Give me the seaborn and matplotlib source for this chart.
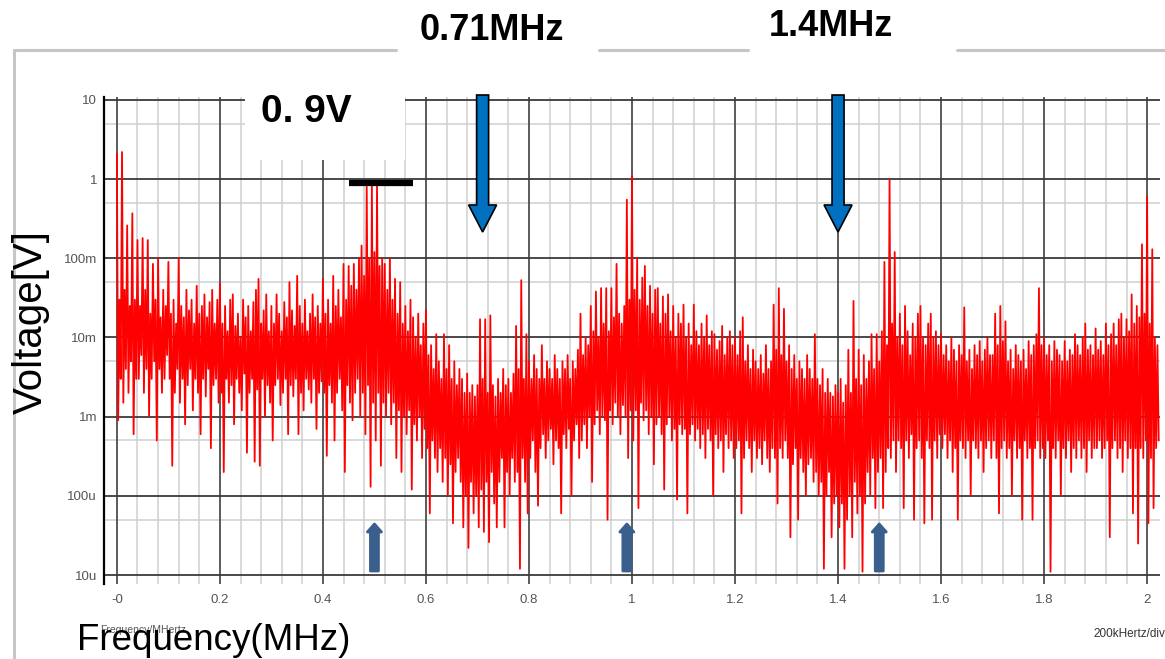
import numpy as np
import pandas as pd
import matplotlib
matplotlib.use("Agg")
import matplotlib.pyplot as plt
import seaborn as sns
from matplotlib.patches import Polygon, Rectangle
from matplotlib.lines import Line2D
from matplotlib.transforms import Affine2D
from matplotlib.ticker import FixedLocator, FixedFormatter
from matplotlib import font_manager

# ---------------- data ----------------
# spectrum sampled every 0.005 MHz: upper excursion (peak) and lower excursion (dip), in mV
step_mhz = 0.005
peak_mv_a = [  # 0.00 - 0.495 MHz
    2100, 30, 2200, 40, 260, 25, 370, 30, 170, 25, 180, 40, 170, 20, 85, 30, 100, 18, 40, 25,
    90, 20, 30, 15, 100, 25, 18, 40, 22, 30, 15, 45, 20, 25, 35, 18, 28, 40, 15, 30,
    48, 15, 25, 12, 30, 35, 14, 20, 10, 30, 18, 25, 12, 28, 40, 55, 15, 22, 35, 12,
    25, 15, 35, 20, 12, 28, 18, 50, 22, 14, 60, 25, 15, 30, 12, 20, 35, 18, 25, 15,
    55, 20, 30, 15, 60, 25, 40, 18, 85, 30, 80, 45, 85, 40, 100, 145, 60, 800, 100, 850,
]
dip_mv_a = [
    0.9, 3, 1.5, 4, 2, 5, 0.6, 3, 3, 6, 2, 4, 1.0, 3, 5, 0.5, 4, 2, 3, 6,
    3, 0.24, 2, 4, 1.5, 3, 0.8, 2.5, 4, 1.2, 3, 2, 0.6, 3, 1.8, 4, 0.4, 2.5, 3, 1.5,
    2, 0.2, 3, 1.5, 2.5, 0.8, 3, 2, 1.2, 3.5, 0.35, 2, 3, 0.27, 2.2, 0.24, 3, 1.0, 2.5, 1.5,
    0.5, 2.5, 3, 1.4, 2, 3, 0.6, 2.5, 1.8, 3, 0.6, 2, 1.2, 3, 2.2, 1.5, 3, 0.7, 2, 2.8,
    2, 0.32, 2.5, 1.5, 0.5, 2, 3, 1.2, 0.2, 2.5, 1.5, 0.9, 2, 3, 1.0, 2, 0.6, 2.5, 0.13, 1.5,
]
peak_mv_b = [  # 0.50 - 0.995 MHz
    120, 820, 80, 100, 85, 40, 100, 30, 55, 20, 50, 15, 25, 12, 30, 18, 10, 20, 8, 15,
    22, 6, 8, 4, 11, 5, 3, 11, 4, 8, 3, 5, 2.5, 4, 3, 2, 3.5, 2, 2.5, 1.8,
    2.5, 17, 3, 17, 2, 19, 2.5, 1.8, 3, 2, 4, 2.5, 3, 2, 3.5, 14, 4, 53, 3, 11,
    5, 3, 6, 4, 3, 8, 3, 5, 4, 3, 6, 4, 3, 5, 4, 6, 3, 5, 4, 7,
    20, 6, 10, 8, 25, 12, 38, 10, 42, 15, 42, 12, 42, 18, 85, 20, 15, 25, 550, 30,
]
dip_mv_b = [
    0.5, 2, 0.24, 1.5, 1.0, 2, 0.8, 1.5, 0.3, 1.2, 0.2, 1, 0.6, 1.2, 0.12, 0.8, 0.5, 1.0, 0.3, 0.7,
    0.4, 0.06, 0.5, 0.3, 0.2, 0.4, 0.15, 0.3, 0.1, 0.25, 0.045, 0.2, 0.3, 0.15, 0.04, 0.1, 0.022, 0.15, 0.06, 0.1,
    0.04, 0.12, 0.035, 0.15, 0.026, 0.2, 0.08, 0.04, 0.15, 0.3, 0.04, 0.2, 0.1, 0.3, 0.15, 0.2, 0.012, 0.3, 0.15, 0.06,
    0.3, 0.5, 0.2, 0.075, 0.4, 0.6, 0.3, 0.5, 0.7, 0.25, 0.5, 0.4, 0.06, 0.6, 0.4, 0.7, 0.1, 0.5, 0.8, 0.3,
    0.5, 0.8, 0.4, 1.0, 0.15, 0.8, 1.2, 0.6, 1.0, 0.9, 0.05, 1.2, 0.8, 1.5, 1.0, 0.6, 1.4, 1.0, 0.3, 1.2,
]
peak_mv_c = [  # 1.00 - 1.495 MHz
    1100, 40, 100, 30, 57, 80, 25, 45, 20, 40, 42, 15, 33, 20, 35, 12, 25, 10, 20, 15,
    26, 10, 15, 8, 26, 12, 8, 15, 10, 19, 8, 12, 11, 7, 9, 14, 6, 10, 12, 8,
    10, 6, 12, 18, 5, 8, 4, 7, 5, 4, 6, 3.5, 8, 4, 5, 26, 7, 42, 6, 23,
    5, 8, 4, 6, 3, 5, 4, 3, 6, 4, 3, 11, 3, 2.5, 4, 2, 3, 2, 1.8, 2.5,
    2, 3, 1.5, 2.5, 7, 2, 29, 3, 7, 2.5, 6, 3, 5, 11, 4, 11, 5, 12, 90, 8,
]
dip_mv_c = [
    0.5, 1.2, 0.07, 1.5, 0.9, 1.2, 0.6, 1.0, 0.25, 0.8, 1.0, 0.6, 0.12, 0.8, 1.0, 0.5, 0.7, 0.09, 0.8, 0.6,
    0.7, 0.06, 0.6, 0.8, 0.5, 0.7, 0.4, 0.6, 0.3, 0.7, 0.5, 0.1, 0.6, 0.4, 0.5, 0.2, 0.6, 0.4, 0.5, 0.3,
    0.4, 0.5, 0.06, 0.3, 0.5, 0.4, 0.2, 0.5, 0.3, 0.4, 0.25, 0.5, 0.3, 0.2, 0.4, 0.3, 0.08, 0.4, 0.3, 0.5,
    0.3, 0.03, 0.25, 0.4, 0.05, 0.3, 0.2, 0.1, 0.25, 0.3, 0.15, 0.2, 0.1, 0.15, 0.012, 0.1, 0.2, 0.03, 0.08, 0.1,
    0.04, 0.08, 0.012, 0.05, 0.1, 0.03, 0.15, 0.06, 0.1, 0.011, 0.08, 0.2, 0.1, 0.3, 0.07, 0.2, 0.3, 0.07, 0.2, 0.4,
]
peak_mv_d = [  # 1.50 - 2.02 MHz
    1000, 15, 120, 10, 20, 8, 25, 12, 6, 15, 10, 20, 25, 10, 8, 15, 20, 10, 12, 8,
    11, 6, 8, 5, 10, 7, 5, 8, 6, 24, 5, 7, 4, 8, 6, 9, 5, 7, 10, 6,
    6, 20, 8, 25, 9, 16, 5, 7, 4, 8, 6, 5, 7, 4, 9, 6, 8, 11, 42, 8,
    10, 6, 8, 5, 9, 7, 6, 5, 9, 5, 7, 6, 11, 8, 6, 10, 15, 7, 8, 6,
    13, 7, 9, 6, 15, 8, 11, 15, 8, 17, 20, 10, 17, 12, 35, 15, 25, 18, 150, 20,
    600, 15, 130, 10, 8,
]
dip_mv_d = [
    0.3, 0.5, 0.2, 0.5, 0.4, 0.07, 0.5, 0.3, 0.6, 0.05, 0.4, 0.5, 0.3, 0.045, 0.5, 0.4, 0.05, 0.5, 0.3, 0.6,
    0.4, 0.6, 0.3, 0.5, 0.2, 0.4, 0.05, 0.5, 0.4, 0.3, 0.5, 0.1, 0.5, 0.4, 0.3, 0.5, 0.2, 0.4, 0.5, 0.3,
    0.5, 0.3, 0.06, 0.4, 0.5, 0.3, 0.4, 0.1, 0.5, 0.3, 0.4, 0.05, 0.5, 0.3, 0.4, 0.05, 0.4, 0.5, 0.3, 0.4,
    0.3, 0.5, 0.011, 0.4, 0.3, 0.5, 0.1, 0.4, 0.3, 0.5, 0.2, 0.4, 0.3, 0.5, 0.3, 0.4, 0.2, 0.5, 0.3, 0.4,
    0.4, 0.5, 0.3, 0.4, 0.5, 0.03, 0.4, 0.5, 0.3, 0.4, 0.2, 0.5, 0.3, 0.4, 0.06, 0.4, 0.025, 0.4, 0.3, 0.5,
    0.045, 0.3, 0.07, 0.4, 0.5,
]

xtick_vals = [0.0, 0.2, 0.4, 0.6, 0.8, 1.0, 1.2, 1.4, 1.6, 1.8, 2.0]
xtick_labels = ["-0", "0.2", "0.4", "0.6", "0.8", "1", "1.2", "1.4", "1.6", "1.8", "2"]
ytick_vals = [1e-5, 1e-4, 1e-3, 1e-2, 1e-1, 1.0, 10.0]
ytick_labels = ["10u", "100u", "1m", "10m", "100m", "1", "10"]

marker_down_mhz = [0.71, 1.4]          # big blue arrows
marker_down_text = ["0.71MHz", "1.4MHz"]
marker_up_mhz = [0.50, 0.99, 1.48]     # small up arrows
level_line_v = 0.9
level_line_mhz = [0.45, 0.575]

# ---------------- build table ----------------
peaks = np.array(peak_mv_a + peak_mv_b + peak_mv_c + peak_mv_d, dtype=float)
dips = np.array(dip_mv_a + dip_mv_b + dip_mv_c + dip_mv_d, dtype=float)
n = min(len(peaks), len(dips))
freq = np.arange(n) * step_mhz
xs = np.empty(2 * n)
ys = np.empty(2 * n)
xs[0::2] = freq
xs[1::2] = freq + step_mhz / 2
ys[0::2] = peaks[:n] / 1000.0
ys[1::2] = dips[:n] / 1000.0
df = pd.DataFrame({"freq_mhz": xs, "volt": ys})

# ---------------- style ----------------
sns.set_style("white")


def has_font(name):
    try:
        font_manager.findfont(font_manager.FontProperties(family=name), fallback_to_default=False)
        return True
    except Exception:
        return False


narrow = "Liberation Sans Narrow" if has_font("Liberation Sans Narrow") else "Liberation Sans"
plt.rcParams["font.family"] = ["Liberation Sans", "DejaVu Sans"]
plt.rcParams["text.color"] = "black"

W, H = 1165, 659
fig = plt.figure(figsize=(W / 100, H / 100), dpi=100)
fig.patch.set_facecolor("white")
ax = fig.add_axes([104 / W, 1 - 584 / H, (1160 - 104) / W, (584 - 97) / H])
ax.set_facecolor("white")
ax.set_yscale("log")
ax.set_xlim(-0.025, 2.025)
ax.set_ylim(7.7e-6, 10.9)

# grid drawn manually (minor below major)
for xv in np.arange(-0.0, 2.03, 0.04):
    ax.axvline(xv, color="#cfcfcf", lw=1.1, zorder=0.3)
for k in range(-5, 1):
    ax.axhline(5 * 10.0 ** k, color="#cfcfcf", lw=1.1, zorder=0.3)
for xv in xtick_vals:
    ax.axvline(xv, color="#3a3a3a", lw=1.1, zorder=0.4)
for yv in ytick_vals:
    ax.axhline(yv, color="#3a3a3a", lw=1.3, zorder=0.4)

sns.lineplot(data=df, x="freq_mhz", y="volt", sort=False, estimator=None,
             color="#ff0000", linewidth=1.3, ax=ax, legend=False, zorder=2)
ax.set_xlabel("")
ax.set_ylabel("")

ax.xaxis.set_major_locator(FixedLocator(xtick_vals))
ax.xaxis.set_major_formatter(FixedFormatter(xtick_labels))
ax.yaxis.set_major_locator(FixedLocator(ytick_vals))
ax.yaxis.set_major_formatter(FixedFormatter(ytick_labels))
ax.yaxis.set_minor_locator(FixedLocator([]))
ax.xaxis.set_minor_locator(FixedLocator([]))
ax.tick_params(axis="x", length=0, pad=7, labelsize=9.5, labelcolor="#555555")
ax.tick_params(axis="y", length=4, width=1, color="black", pad=1, labelsize=9.5, labelcolor="#555555")
for lab in ax.get_xticklabels() + ax.get_yticklabels():
    lab.set_family([narrow, "DejaVu Sans"])
for s in ["top", "right", "bottom"]:
    ax.spines[s].set_visible(False)
ax.spines["left"].set_color("black")
ax.spines["left"].set_linewidth(1.6)

# 0.9 V level line
ax.plot(level_line_mhz, [level_line_v, level_line_v], color="black", lw=4.5,
        solid_capstyle="butt", zorder=7, clip_on=False)

# pixel transform (image coords, y down)
T = Affine2D().scale(1 / W, -1 / H).translate(0, 1) + fig.transFigure


def data_px(f):
    return ax.transData.transform((f, 1.0))[0]


# window frame lines
frame_col = "#c6c6c6"
for seg in [[(14, 50), (14, 659)], [(14, 50), (396, 50)], [(599, 50), (748, 50)], [(957, 50), (1165, 50)]]:
    fig.add_artist(Line2D([seg[0][0], seg[1][0]], [seg[0][1], seg[1][1]], transform=T,
                          color=frame_col, lw=2.2, zorder=1))

# white box under "0. 9V"
fig.add_artist(Rectangle((245, 84), 160, 76, transform=T, facecolor="white", edgecolor="none", zorder=5))
fig.text(306 / W, 1 - 112 / H, "0. 9V", ha="center", va="center", fontsize=28,
         fontweight="bold", family=[narrow, "DejaVu Sans"], color="black", zorder=6)

# big down arrows + frequency labels
label_centres = [(492, 31), (831, 26)]
for f, txt, (tx, ty) in zip(marker_down_mhz, marker_down_text, label_centres):
    cx = data_px(f)
    pts = [(cx - 6, 95), (cx + 6, 95), (cx + 6, 205), (cx + 14, 205), (cx, 232),
           (cx - 14, 205), (cx - 6, 205)]
    fig.add_artist(Polygon(pts, closed=True, transform=T, facecolor="#0070C0",
                           edgecolor="black", lw=1.2, zorder=6))
    fig.text(tx / W, 1 - ty / H, txt, ha="center", va="center", fontsize=26,
             fontweight="bold", color="black", zorder=6)

# small up arrows
for f in marker_up_mhz:
    cx = data_px(f)
    pts = [(cx - 4, 571), (cx + 4, 571), (cx + 4, 532), (cx + 7, 532), (cx, 524),
           (cx - 7, 532), (cx - 4, 532)]
    fig.add_artist(Polygon(pts, closed=True, transform=T, facecolor="#3A5F8C",
                           edgecolor="#3A5F8C", lw=2, joinstyle="round", zorder=6))

# axis titles
fig.text(31 / W, 1 - 322 / H, "Voltage[V]", rotation=90, ha="center", va="center",
         fontsize=29, color="black")
fig.text(100 / W, 1 - 630 / H, "Frequency/MHertz", ha="left", va="center", fontsize=7.5,
         color="#555555", family=[narrow, "DejaVu Sans"])
fig.text(77 / W, 1 - 640 / H, "Frequency(MHz)", ha="left", va="center", fontsize=26.5,
         color="black")
fig.text(1165 / W, 1 - 634 / H, "200kHertz/div", ha="right", va="center", fontsize=8.5,
         color="#333333", family=[narrow, "DejaVu Sans"])

fig.savefig("out.png", dpi=100, facecolor="white")
